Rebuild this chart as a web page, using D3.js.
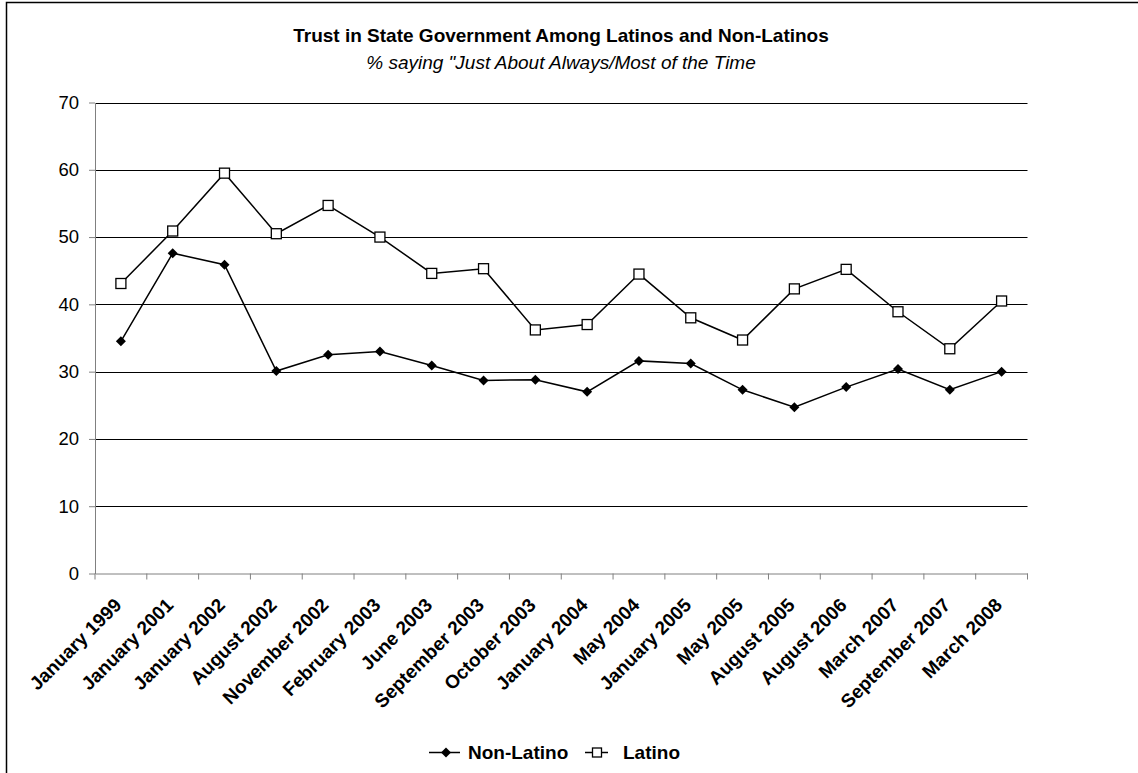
<!DOCTYPE html>
<html><head><meta charset="utf-8">
<script src="https://cdn.jsdelivr.net/npm/d3@7"></script>
<style>body{margin:0;background:#fff;font-family:"Liberation Sans",Arial,sans-serif;}</style>
</head><body><svg id="c" width="1138" height="773"></svg>
<script>
const categories = ["January 1999","January 2001","January 2002","August 2002","November 2002","February 2003","June 2003","September 2003","October 2003","January 2004","May 2004","January 2005","May 2005","August 2005","August 2006","March 2007","September 2007","March 2008"];
const nonLatino = [34.5,47.6,45.9,30.1,32.5,33.0,30.9,28.7,28.8,27.0,31.6,31.2,27.3,24.7,27.7,30.4,27.3,30.0];
const latino = [43.1,50.9,59.5,50.5,54.7,50.0,44.6,45.3,36.2,37.0,44.5,38.0,34.7,42.3,45.2,38.9,33.4,40.5];
const yTicks = [0,10,20,30,40,50,60,70];
const seriesNames = ["Non-Latino","Latino"];

const svg = d3.select("#c");
svg.append("rect").attr("x",6.5).attr("y",2.5).attr("width",1300).attr("height",1000)
  .attr("fill","none").attr("stroke","#000").attr("stroke-width",1.5);

const L=95, R=1027.5, T=102.5, B=573.5;
const x = d3.scaleBand().domain(categories).range([L,R]);
const y = d3.scaleLinear().domain([0,70]).range([B,T]);

// gridlines
svg.append("g").selectAll("line").data(yTicks.filter(d=>d>0)).join("line")
  .attr("x1",L).attr("x2",R).attr("y1",d=>Math.round(y(d))+0.5).attr("y2",d=>Math.round(y(d))+0.5)
  .attr("stroke","#000").attr("stroke-width",1);

// y axis
const ya = svg.append("g").attr("transform",`translate(${L},0)`)
  .call(d3.axisLeft(y).tickValues(yTicks).tickSize(6).tickPadding(10).tickSizeOuter(0));
ya.select(".domain").attr("stroke","#808080");
ya.selectAll(".tick line").attr("stroke","#808080");
ya.selectAll(".tick text").attr("font-size",18.5).attr("font-family","Liberation Sans, Arial, sans-serif").attr("fill","#000");

// x axis
const xa = svg.append("g").attr("transform",`translate(0,${B})`)
  .call(d3.axisBottom(x).tickSize(6).tickSizeOuter(0).tickFormat(""));
xa.select(".domain").attr("stroke","#808080");
xa.selectAll(".tick line").attr("stroke","#808080").attr("transform",`translate(${-x.bandwidth()/2},0)`);
xa.append("line").attr("x1",R).attr("x2",R).attr("y1",0).attr("y2",6).attr("stroke","#808080");
svg.append("g").selectAll("text").data(categories).join("text")
  .attr("transform",d=>`translate(${x(d)+x.bandwidth()/2-3},${B+28}) rotate(-45)`)
  .attr("text-anchor","end").attr("dy","0.35em")
  .attr("font-size",19).attr("font-weight","bold").attr("fill","#000")
  .text(d=>d);

const cx = d=>x(d)+x.bandwidth()/2;
const line = d3.line().x((v,i)=>cx(categories[i])).y(v=>y(v));

svg.append("path").datum(nonLatino).attr("d",line).attr("fill","none").attr("stroke","#000").attr("stroke-width",1.5);
svg.append("path").datum(latino).attr("d",line).attr("fill","none").attr("stroke","#000").attr("stroke-width",1.5);

const diamond = d3.symbol().type(d3.symbolSquare).size(50);
svg.append("g").selectAll("path").data(nonLatino).join("path")
  .attr("d",diamond).attr("transform",(v,i)=>`translate(${cx(categories[i])},${y(v)}) rotate(45)`)
  .attr("fill","#000");
svg.append("g").selectAll("rect").data(latino).join("rect")
  .attr("x",(v,i)=>cx(categories[i])-5).attr("y",v=>y(v)-5).attr("width",10).attr("height",10)
  .attr("fill","#fff").attr("stroke","#000").attr("stroke-width",1.3);

// titles
svg.append("text").attr("x",561).attr("y",42).attr("text-anchor","middle")
  .attr("font-size",19).attr("font-weight","bold").text("Trust in State Government Among Latinos and Non-Latinos");
svg.append("text").attr("x",561).attr("y",69).attr("text-anchor","middle")
  .attr("font-size",19).attr("font-style","italic").text("% saying \"Just About Always/Most of the Time");

// legend
const lg = svg.append("g");
lg.append("line").attr("x1",429).attr("x2",460).attr("y1",752.5).attr("y2",752.5).attr("stroke","#000").attr("stroke-width",1.5);
lg.append("path").attr("d",diamond).attr("transform","translate(446,752.5) rotate(45)").attr("fill","#000");
lg.append("text").attr("x",468).attr("y",759).attr("font-size",19).attr("font-weight","bold").text(seriesNames[0]);
lg.append("line").attr("x1",585).attr("x2",608).attr("y1",752.5).attr("y2",752.5).attr("stroke","#000").attr("stroke-width",1.5);
lg.append("rect").attr("x",592.5).attr("y",748).attr("width",9).attr("height",9).attr("fill","#fff").attr("stroke","#000").attr("stroke-width",1.3);
lg.append("text").attr("x",623).attr("y",759).attr("font-size",19).attr("font-weight","bold").text(seriesNames[1]);
</script></body></html>
